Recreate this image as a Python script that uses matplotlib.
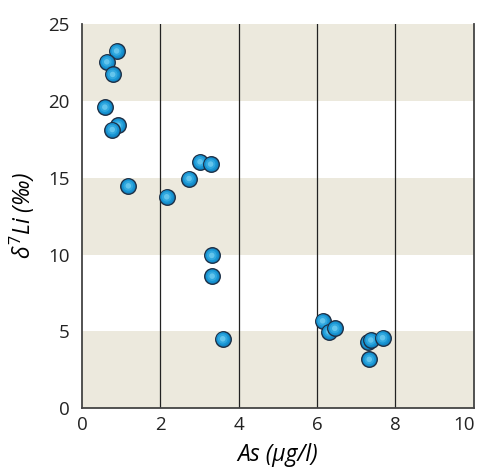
import numpy as np
import matplotlib
matplotlib.use('Agg')
import matplotlib.pyplot as plt
import matplotlib.transforms as mtransforms

plt.rcParams['font.family'] = ['Open Sans', 'DejaVu Sans']
plt.rcParams['mathtext.fontset'] = 'custom'
plt.rcParams['mathtext.it'] = 'Open Sans:italic'
plt.rcParams['mathtext.rm'] = 'Open Sans'

# As (ug/l) vs d7Li (permil)
as_vals = [0.88, 0.63, 0.78, 0.58, 0.92, 0.77, 1.18, 2.16, 2.73, 3.01, 3.28,
           3.31, 3.32, 3.59, 6.14, 6.30, 6.45, 7.30, 7.37, 7.67, 7.33]
li_vals = [23.26, 22.55, 21.73, 19.60, 18.42, 18.14, 14.47, 13.76, 14.95, 16.04, 15.89,
           9.94, 8.59, 4.51, 5.68, 4.97, 5.19, 4.32, 4.43, 4.58, 3.17]

x_ticks = [0, 2, 4, 6, 8, 10]
y_ticks = [0, 5, 10, 15, 20, 25]

fig = plt.figure(figsize=(4.83, 4.75), dpi=100)
ax = fig.add_axes([0.17, 0.141, 0.811, 0.808])

# alternating beige bands
for lo in [0, 10, 20]:
    ax.axhspan(lo, lo + 5, color='#ece9dd', zorder=0, lw=0)

for xv in [2, 4, 6, 8]:
    ax.axvline(xv, color='#222222', lw=0.9, zorder=1)

# shaded "sphere" markers: base circle then lighter inner layers
layers = [(125, '#1386c4'), (85, '#1a98d6'), (48, '#36ace2'), (16, '#6ccaef')]
for i, (xv, yv) in enumerate(zip(as_vals, li_vals)):
    z = 3 + i * 0.01
    ax.scatter(xv, yv, s=layers[0][0], c=layers[0][1], edgecolors='#1d2f45',
               linewidths=1.0, zorder=z)
    for s, c in layers[1:]:
        ax.scatter(xv, yv, s=s, c=c, edgecolors='none', zorder=z + 0.001, alpha=0.85)

ax.set_xlim(0, 10)
ax.set_ylim(0, 25)
ax.set_xticks(x_ticks)
ax.set_yticks(y_ticks)
ax.tick_params(length=0, labelsize=13.5, colors='#222222')
ax.tick_params(axis='y', pad=9)
ax.tick_params(axis='x', pad=6)

# keep the last x label inside the figure
last = ax.get_xticklabels()[-1]
last.set_transform(last.get_transform() +
                   mtransforms.ScaledTranslation(-7 / 72, 0, fig.dpi_scale_trans))

for side in ['left', 'bottom', 'right']:
    ax.spines[side].set_color('#444444')
    ax.spines[side].set_linewidth(1.3)
ax.spines['top'].set_visible(False)

ax.set_xlabel('As (µg/l)', fontsize=16.5, style='italic', labelpad=6)
ax.set_ylabel(r'$\delta^{7}Li$ (‰)', fontsize=16.5, style='italic', labelpad=8)

fig.savefig('out.png', dpi=100)
